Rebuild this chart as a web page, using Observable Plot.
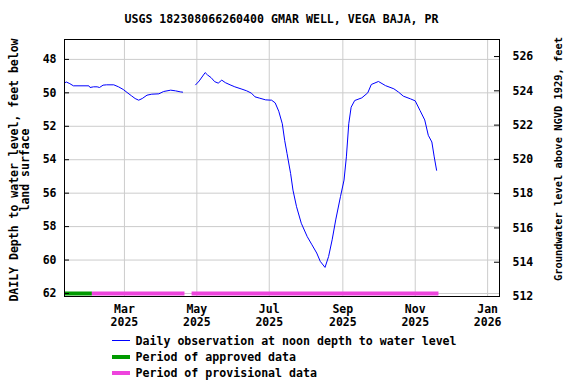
<!DOCTYPE html>
<html><head><meta charset="utf-8">
<script src="https://cdn.jsdelivr.net/npm/d3@7"></script>
<script src="https://cdn.jsdelivr.net/npm/@observablehq/plot@0.6"></script>
<style>
body{margin:0;background:#fff;}
#wrap{position:relative;width:576px;height:384px;font-family:"DejaVu Sans Mono",monospace;font-weight:bold;color:#000;overflow:hidden;}
#wrap svg{position:absolute;left:0;top:0;}
.abs{position:absolute;white-space:nowrap;}
.rot{position:absolute;text-align:center;transform:rotate(-90deg);white-space:nowrap;}
</style></head><body><div id="wrap"></div>
<script>
const title = "USGS 182308066260400 GMAR WELL, VEGA BAJA, PR";
const leftLabel = ["DAILY Depth to water level, feet below", "land surface"];
const rightLabel = "Groundwater level above NGVD 1929, feet";
const legendLabels = ["Daily observation at noon depth to water level", "Period of approved data", "Period of provisional data"];

// segment 1 (Jan-Apr 2025)
const dates1 = ["2025-01-10","2025-01-11","2025-01-14","2025-01-17","2025-01-30","2025-01-31","2025-02-03","2025-02-06","2025-02-08","2025-02-11","2025-02-14","2025-02-20","2025-02-24","2025-02-28","2025-03-04","2025-03-07","2025-03-10","2025-03-13","2025-03-16","2025-03-20","2025-03-24","2025-03-30","2025-04-03","2025-04-09","2025-04-13","2025-04-17","2025-04-19"];
const depth1 = [49.39,49.35,49.45,49.58,49.58,49.68,49.64,49.64,49.68,49.54,49.52,49.52,49.64,49.80,50.02,50.18,50.34,50.44,50.34,50.14,50.08,50.06,49.92,49.84,49.88,49.94,49.96];
// segment 2 (Apr-Nov 2025)
const dates2 = ["2025-04-30","2025-05-03","2025-05-08","2025-05-10","2025-05-13","2025-05-16","2025-05-19","2025-05-22","2025-05-25","2025-05-29","2025-06-02","2025-06-08","2025-06-12","2025-06-16","2025-06-19","2025-06-23","2025-06-28","2025-07-03","2025-07-06","2025-07-09","2025-07-12","2025-07-14","2025-07-16","2025-07-19","2025-07-21","2025-07-24","2025-07-28","2025-08-02","2025-08-06","2025-08-10","2025-08-13","2025-08-17","2025-08-20","2025-08-23","2025-08-26","2025-08-30","2025-09-02","2025-09-04","2025-09-06","2025-09-08","2025-09-11","2025-09-17","2025-09-22","2025-09-25","2025-10-01","2025-10-07","2025-10-14","2025-10-18","2025-10-22","2025-10-28","2025-11-01","2025-11-05","2025-11-09","2025-11-12","2025-11-15","2025-11-17","2025-11-19"];
const depth2 = [49.52,49.29,48.79,48.93,49.09,49.33,49.42,49.24,49.39,49.52,49.64,49.78,49.88,50.02,50.24,50.32,50.42,50.44,50.60,51.10,51.85,52.84,53.63,54.82,55.82,56.81,57.80,58.60,59.09,59.58,60.08,60.44,59.79,58.79,57.60,56.21,55.22,53.83,51.85,50.86,50.46,50.30,50.00,49.50,49.32,49.57,49.76,49.96,50.20,50.36,50.48,51.05,51.62,52.54,52.94,53.83,54.63];

const approvedPeriods = [["2025-01-10","2025-02-02"]];
const provisionalPeriods = [["2025-02-02","2025-04-21"],["2025-04-27","2025-11-21"]];

const xTicks = ["2025-03-01","2025-05-01","2025-07-01","2025-09-01","2025-11-01","2026-01-01"];
const leftTicks = [48,50,52,54,56,58,60,62];
const rightTicks = [512,514,516,518,520,522,524,526];

const colors = {line:"#0000ff", approved:"#009a00", provisional:"#ee44dd", grid:"#cccccc"};

const parse = d3.utcParse("%Y-%m-%d");
const obs = [
  ...dates1.map((d,i)=>({date:parse(d), depth:depth1[i], seg:1})),
  ...dates2.map((d,i)=>({date:parse(d), depth:depth2[i], seg:2}))
];
const periods = [
  ...approvedPeriods.map(p=>({x1:parse(p[0]), x2:parse(p[1]), c:colors.approved})),
  ...provisionalPeriods.map(p=>({x1:parse(p[0]), x2:parse(p[1]), c:colors.provisional}))
];
const xTickDates = xTicks.map(parse);
// right axis: elevation -> depth position
const elevToDepth = v => 47.83 + (526 - v) * 1.025;
const rightDepths = rightTicks.map(elevToDepth);
const rightMap = new Map(rightDepths.map((d,i)=>[d, rightTicks[i]]));

const W = 576, H = 384, mL = 64, mR = 77, mT = 39, mB = 88;
const plotW = W - mL - mR;

const chart = Plot.plot({
  width: W, height: H,
  marginLeft: mL, marginRight: mR, marginTop: mT, marginBottom: mB,
  style: {fontFamily: "DejaVu Sans Mono, monospace", fontSize: "11.5px", fontWeight: "bold", color: "#000", background: "white"},
  x: {type: "utc", domain: [new Date(Date.UTC(2025,0,9,12)), new Date(Date.UTC(2026,0,11))]},
  y: {domain: [46.81, 62.18], reverse: true},
  marks: [
    Plot.gridY(leftTicks, {stroke: colors.grid, strokeOpacity: 1}),
    Plot.gridX(xTickDates, {stroke: colors.grid, strokeOpacity: 1}),
    Plot.ruleY(periods, {y: () => 62, x1: "x1", x2: "x2", stroke: "c", strokeWidth: 4}),
    Plot.line(obs, {x: "date", y: "depth", z: "seg", stroke: colors.line, strokeWidth: 1}),
    Plot.frame({stroke: "black"}),
    Plot.tickY(leftTicks, {y: d => d, insetRight: plotW - 5, stroke: "black"}),
    Plot.tickY(rightDepths, {y: d => d, insetLeft: plotW - 5, stroke: "black"}),
    Plot.axisY(leftTicks, {anchor: "left", tickSize: 0, tickPadding: 8, label: null}),
    Plot.axisY(rightDepths, {anchor: "right", tickSize: 0, tickPadding: 13, label: null, textAnchor: "start", tickFormat: d => rightMap.get(d)}),
    Plot.axisX(xTickDates, {anchor: "bottom", tickSize: 0, tickPadding: 8, label: null, lineHeight: 1.1, tickFormat: d => d3.utcFormat("%b")(d) + "\n" + d3.utcFormat("%Y")(d)})
  ]
});
const wrap = document.getElementById("wrap");
wrap.appendChild(chart);

function addDiv(cls, text, styles){
  const el = document.createElement("div");
  el.className = cls; el.textContent = text;
  Object.assign(el.style, styles);
  wrap.appendChild(el); return el;
}
// title
addDiv("abs", title, {left: "0px", width: (mL*2 + plotW) + "px", textAlign: "center", top: "12px", fontSize: "11.6px", lineHeight: "14px"});
// left label (two lines)
const ll = document.createElement("div");
ll.className = "rot";
Object.assign(ll.style, {width: "320px", left: (19.5 - 160) + "px", top: (170 - 11) + "px", fontSize: "11.5px", lineHeight: "11px"});
ll.innerHTML = leftLabel.join("<br>");
wrap.appendChild(ll);
// right label
addDiv("rot", rightLabel, {width: "320px", left: (558 - 160) + "px", top: (158.5 - 6) + "px", fontSize: "10.4px", lineHeight: "12px"});
// legend
const legY = [340.7, 356.7, 372.7];
const sw = document.createElement("div");
Object.assign(sw.style, {position: "absolute", left: "112px", top: (legY[0] - 0.5) + "px", width: "18px", height: "1px", background: colors.line});
wrap.appendChild(sw);
[colors.approved, colors.provisional].forEach((c, i) => {
  const r = document.createElement("div");
  Object.assign(r.style, {position: "absolute", left: "112px", top: (legY[i+1] - 2) + "px", width: "18px", height: "4px", background: c});
  wrap.appendChild(r);
});
legendLabels.forEach((t, i) => {
  addDiv("abs", t, {left: "135.5px", top: (legY[i] - 7) + "px", fontSize: "11.6px", lineHeight: "14px"});
});
</script></body></html>
